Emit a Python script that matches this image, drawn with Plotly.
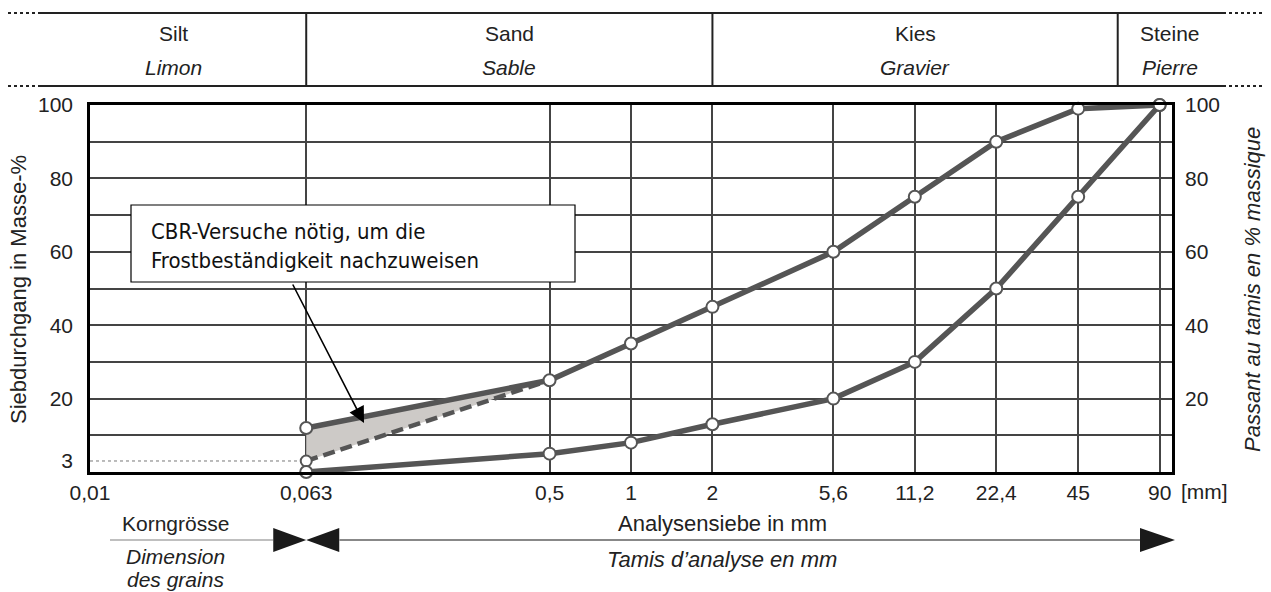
import math
import plotly.graph_objects as go

# ---------------- data ----------------
sieves = [0.063, 0.5, 1, 2, 5.6, 11.2, 22.4, 45, 90]
upper_pass = [12, 25, 35, 45, 60, 75, 90, 99, 100]
lower_pass = [0, 5, 8, 13, 20, 30, 50, 75, 100]
dashed_x = [0.063, 0.5]
dashed_y = [3, 25]
fill_x = [0.063, 0.5, 0.063]
fill_y = [12, 25, 3]
fines_limit = 3

x_tickvals = [0.01, 0.063, 0.5, 1, 2, 5.6, 11.2, 22.4, 45, 90]
x_ticktext = ["0,01", "0,063", "0,5", "1", "2", "5,6", "11,2", "22,4", "45", "90"]
y_left_ticks = [3, 20, 40, 60, 80, 100]
y_right_ticks = [20, 40, 60, 80, 100]
y_grid = [0, 10, 20, 30, 40, 50, 60, 70, 80, 90, 100]

header_bounds = [0.063, 2, 63]
header_de = ["Silt", "Sand", "Kies", "Steine"]
header_fr = ["Limon", "Sable", "Gravier", "Pierre"]

note_text = "CBR-Versuche nötig, um die<br>Frostbeständigkeit nachzuweisen"

# ---------------- geometry helpers ----------------
W, H = 1271, 592
L, R, T, B = 90, 99, 105, 120
PW, PH = W - L - R, H - T - B
XMIN, XMAX = -2, 2


def px(x):
    return (x - L) / PW


def py(y):
    return (H - B - y) / PH


def xlog(v):
    return (math.log10(v) - XMIN) / (XMAX - XMIN)


FONT = "Liberation Sans, Arial, Helvetica, sans-serif"
NARROW = "Liberation Sans Narrow, Arial Narrow, DejaVu Sans Condensed, sans-serif"
LINE = "#555555"
GRID = "#444444"
TXT = "#222222"


def label(x, y, text, size=21, **kw):
    d = dict(x=x, y=y, xref="paper", yref="paper", text=text, showarrow=False,
             xanchor="center", yanchor="middle",
             font=dict(size=size, color=TXT, family=FONT))
    d.update(kw)
    return d


fig = go.Figure()

# shaded region
fig.add_trace(go.Scatter(x=fill_x, y=fill_y, fill="toself", fillcolor="#cdcac7",
                         mode="lines", line=dict(width=0), hoverinfo="skip",
                         showlegend=False))
# dashed line
fig.add_trace(go.Scatter(x=dashed_x, y=dashed_y, mode="lines",
                         line=dict(color=LINE, width=4.5, dash="12px,6px"),
                         showlegend=False, cliponaxis=False))
# dotted line for 3 %
fig.add_trace(go.Scatter(x=[x_tickvals[0], sieves[0]], y=[fines_limit, fines_limit],
                         mode="lines", line=dict(color="#777777", width=1, dash="dot"),
                         showlegend=False))
# marker at 3 %
fig.add_trace(go.Scatter(x=[sieves[0]], y=[fines_limit], mode="markers",
                         marker=dict(size=11, color="white", line=dict(color=LINE, width=2)),
                         showlegend=False, cliponaxis=False))
# curves
for ys in (lower_pass, upper_pass):
    fig.add_trace(go.Scatter(x=sieves, y=ys, mode="lines+markers",
                             line=dict(color=LINE, width=5.5),
                             marker=dict(size=12, color="white", line=dict(color=LINE, width=2)),
                             showlegend=False, cliponaxis=False))

# right axis (labels only)
fig.add_trace(go.Scatter(x=[None], y=[None], yaxis="y2", showlegend=False, hoverinfo="skip"))

shapes = []
annotations = []

# ----- header band -----
top_y, bot_y = py(13), py(86)
left_solid, right_solid = px(40), px(1223)
for yy in (top_y, bot_y):
    shapes.append(dict(type="line", xref="paper", yref="paper", x0=px(8), x1=left_solid,
                       y0=yy, y1=yy, line=dict(color=TXT, width=2, dash="dot")))
    shapes.append(dict(type="line", xref="paper", yref="paper", x0=left_solid, x1=right_solid,
                       y0=yy, y1=yy, line=dict(color=TXT, width=2)))
    shapes.append(dict(type="line", xref="paper", yref="paper", x0=right_solid, x1=px(1262),
                       y0=yy, y1=yy, line=dict(color=TXT, width=2, dash="dot")))
edges = [left_solid] + [xlog(v) for v in header_bounds] + [right_solid]
for v in header_bounds:
    shapes.append(dict(type="line", xref="paper", yref="paper", x0=xlog(v), x1=xlog(v),
                       y0=bot_y, y1=top_y, line=dict(color=TXT, width=2)))
for i, (de, fr) in enumerate(zip(header_de, header_fr)):
    cx = (edges[i] + edges[i + 1]) / 2
    annotations.append(label(cx, py(33), de, 21))
    annotations.append(label(cx, py(67), "<i>" + fr + "</i>", 21))

# ----- note box -----
shapes.append(dict(type="rect", xref="paper", yref="paper", x0=px(131), x1=px(575),
                   y0=py(282), y1=py(205), fillcolor="white",
                   line=dict(color="black", width=1.2), layer="above"))
annotations.append(dict(x=px(149), y=py(246), xref="paper", yref="paper", text=note_text,
                        showarrow=False, xanchor="left", yanchor="middle", align="left",
                        font=dict(size=22, color="#111111", family=NARROW)))
annotations.append(dict(x=px(364), y=py(423), xref="paper", yref="paper", text="",
                        showarrow=True, ax=-72, ay=-140, arrowhead=2, arrowsize=2,
                        arrowwidth=1.6, arrowcolor="black"))

# ----- [mm] -----
annotations.append(label(px(1204), py(491), "[mm]", 21))

# ----- axis titles -----
annotations.append(label(px(18), py(290), "Siebdurchgang in Masse-%", 22, textangle=-90))
annotations.append(label(px(1252), py(290), "<i>Passant au tamis en % massique</i>", 22,
                         textangle=-90))

# ----- bottom legend band -----
x0 = xlog(sieves[0])
yb = py(540)
th = 12 / PH
tw = 33 / PW
shapes.append(dict(type="line", xref="paper", yref="paper", x0=px(110), x1=x0 - tw,
                   y0=yb, y1=yb, line=dict(color="#aaaaaa", width=1.5)))
shapes.append(dict(type="path", xref="paper", yref="paper",
                   path=f"M {x0 - tw} {yb + th} L {x0} {yb} L {x0 - tw} {yb - th} Z",
                   fillcolor="#1a1a1a", line=dict(width=0)))
shapes.append(dict(type="path", xref="paper", yref="paper",
                   path=f"M {x0 + tw} {yb + th} L {x0} {yb} L {x0 + tw} {yb - th} Z",
                   fillcolor="#1a1a1a", line=dict(width=0)))
shapes.append(dict(type="line", xref="paper", yref="paper", x0=x0 + tw, x1=px(1142),
                   y0=yb, y1=yb, line=dict(color="#888888", width=2)))
shapes.append(dict(type="path", xref="paper", yref="paper",
                   path=f"M {px(1140)} {yb + th} L {px(1175)} {yb} L {px(1140)} {yb - th} Z",
                   fillcolor="#1a1a1a", line=dict(width=0)))

annotations.append(label(px(175), py(523), "Korngrösse", 21))
annotations.append(label(px(175), py(556), "<i>Dimension</i>", 21))
annotations.append(label(px(175), py(579), "<i>des grains</i>", 21))
annotations.append(label(px(722), py(523), "Analysensiebe in mm", 22))
annotations.append(label(px(722), py(559), "<i>Tamis d’analyse en mm</i>", 22))

fig.update_layout(
    width=W, height=H,
    margin=dict(l=L, r=R, t=T, b=B),
    paper_bgcolor="white", plot_bgcolor="white",
    showlegend=False,
    shapes=shapes,
    annotations=annotations,
    xaxis=dict(type="log", range=[XMIN, XMAX], tickmode="array",
               tickvals=x_tickvals, ticktext=x_ticktext,
               showgrid=True, gridcolor=GRID, gridwidth=1.5,
               showline=True, mirror=True, linecolor="black", linewidth=2.5,
               ticks="", zeroline=False, ticklabelstandoff=0,
               tickfont=dict(size=21, color=TXT, family=FONT)),
    yaxis=dict(range=[0, 100], tickmode="array", tickvals=y_left_ticks,
               showgrid=False, zeroline=False,
               minor=dict(tickmode="array", tickvals=y_grid, showgrid=True,
                          gridcolor=GRID, gridwidth=1.5, ticks=""),
               showline=True, mirror=True, linecolor="black", linewidth=2.5,
               ticks="", ticklabelstandoff=10,
               tickfont=dict(size=21, color=TXT, family=FONT)),
    yaxis2=dict(range=[0, 100], overlaying="y", side="right", tickmode="array",
                tickvals=y_right_ticks, showgrid=False, zeroline=False, showline=False,
                ticks="", ticklabelstandoff=12,
                tickfont=dict(size=21, color=TXT, family=FONT)),
)

fig.write_html("out.html", config={"displayModeBar": False},
               post_script="document.body.style.margin='0';")
